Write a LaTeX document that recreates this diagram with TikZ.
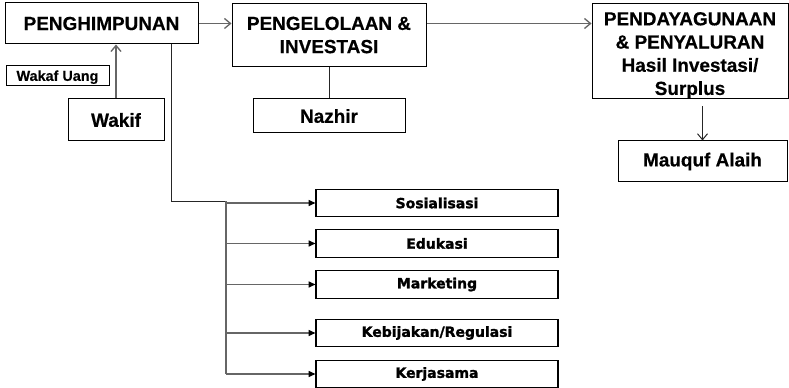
\documentclass[tikz,border=0pt]{standalone}
\usepackage{fontspec}
\setmainfont{Liberation Sans}[BoldFeatures={FakeBold=0.5}]
\newfontfamily\heavyfont{DejaVu Sans}[BoldFeatures={FakeBold=1.6}]
\usetikzlibrary{arrows.meta,calc}
\newcommand\bigtxt{\fontsize{14.2}{17.4}\selectfont\bfseries}
\newcommand\smalltxt{\fontsize{10.8}{12}\selectfont\bfseries}
\newcommand\listtxt{\heavyfont\fontsize{10.5}{12}\selectfont\bfseries}
\begin{document}
\begin{tikzpicture}[x=0.75pt,y=-0.75pt,
  box/.style={draw=black,line width=0.75pt,inner sep=0pt,align=center,font=\bigtxt},
  listbox/.style={draw=black,line width=0.9pt,inner sep=0pt,minimum width=181.5pt,minimum height=20.5pt,font=\listtxt},
  conn/.style={draw=black!60,line width=1pt},
  tapline/.style={draw=black!85,line width=0.75pt},
  barb/.style={-{Straight Barb[length=4.5pt,width=7.5pt]}},
  tri/.style={-{Triangle[length=5pt,width=4.5pt,color=black]}}]
\path[use as bounding box] (0,0) rectangle (789,388);
% top row
\node[box,minimum width=144.75pt,minimum height=30.75pt] (pengh) at (101.5,23.5) {PENGHIMPUNAN};
\node[box,minimum width=145.5pt,minimum height=47.25pt] (pengel) at (329,35) {PENGELOLAAN \&\\INVESTASI};
\node[box,minimum width=147pt,minimum height=71.25pt] (pend) at (690,51.5) {};
\node[align=center,inner sep=0pt,font=\bigtxt] (pendtxt) at (690,55.5) {PENDAYAGUNAAN\\\& PENYALURAN\\Hasil Investasi/\\Surplus};
% second row
\node[box,font=\smalltxt,minimum width=77.25pt,minimum height=15pt,text depth=0.5pt] (uang) at (57.5,76) {Wakaf Uang};
\node[box,minimum width=72pt,minimum height=31.5pt] (wakif) at (116,120) {Wakif};
\node[box,minimum width=114pt,minimum height=25.5pt] (nazhir) at (329,116) {Nazhir};
\node[box,minimum width=126.75pt,minimum height=30.75pt] (mauquf) at (702.5,161.5) {Mauquf Alaih};
% list boxes
\node[listbox] (sos) at (437,203) {Sosialisasi};
\node[listbox] (edu) at (437,243.5) {Edukasi};
\node[listbox] (mkt) at (437,284.5) {Marketing};
\node[listbox] (keb) at (437,333) {Kebijakan/Regulasi};
\node[listbox] (ker) at (437,374) {Kerjasama};
% connectors
\draw[conn,barb] (pengh.east) -- (pengh.east -| pengel.west);
\draw[conn,barb] (pengh.east -| pengel.east) -- (pengh.east -| pend.west);
\draw[conn,barb] (wakif.north) -- (wakif.north |- pengh.south);
\draw[tapline] (pengel.south) -- (nazhir.north);
\coordinate (pendout) at ($(pend.south -| mauquf.north)+(0,7)$);
\draw[tapline,barb] (pendout) -- (mauquf.north);
\coordinate (tap) at ($(pengh.south)+(69.5,0)$);
\coordinate (bus) at ($(tap)+(55,157)$);
\draw[tapline] (tap) |- (bus);
\draw[conn] (bus) -- (bus |- ker.west);
\draw[conn,tri] (bus |- sos.west) -- (sos.west);
\draw[conn,tri] (bus |- edu.west) -- (edu.west);
\draw[conn,tri] (bus |- mkt.west) -- (mkt.west);
\draw[conn,tri] (bus |- keb.west) -- (keb.west);
\draw[conn,tri] (bus |- ker.west) -- (ker.west);
\end{tikzpicture}
\end{document}
